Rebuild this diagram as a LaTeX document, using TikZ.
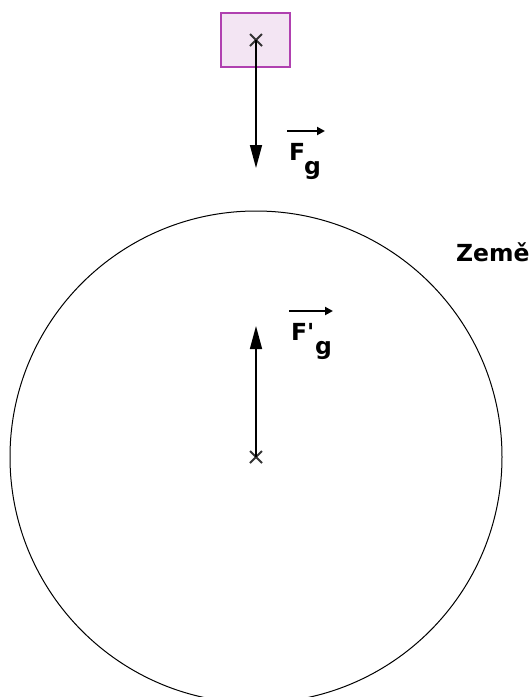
\documentclass[tikz,border=0pt]{standalone}
\usepackage{fontspec}
\setmainfont{DejaVu Sans}
\usetikzlibrary{arrows.meta,calc}
\definecolor{boxfill}{HTML}{F3E5F3}
\definecolor{boxline}{HTML}{B040B0}
\definecolor{crossc}{HTML}{333333}
\tikzset{
  force/.style={line width=1.5pt,-{Triangle[length=23pt,width=12pt]}},
  vec/.style={line width=2.6pt,-{Triangle[length=8pt,width=8pt]}},
  crossmark/.style={crossc,line width=2pt},
  lbl/.style={font=\fontsize{23.5}{27}\selectfont\bfseries,inner sep=0pt,anchor=base west},
}
\begin{document}
\begin{tikzpicture}[x=1pt,y=-1pt]
\useasboundingbox (0,0) rectangle (531,697);
% Earth
\coordinate (ec) at (256,457);
\draw[line width=1pt] (ec) circle[radius=246];
% body
\node[draw=boxline,fill=boxfill,line width=1.2pt,minimum width=69pt,minimum height=54pt,inner sep=0pt] (box) at (255.5,40) {};
\coordinate (mc) at (256,40);
% crosses
\draw[crossmark] ($(mc)+(-6,-6)$) -- ($(mc)+(6,6)$) ($(mc)+(-6,6)$) -- ($(mc)+(6,-6)$);
\draw[crossmark] ($(ec)+(-6,-6)$) -- ($(ec)+(6,6)$) ($(ec)+(-6,6)$) -- ($(ec)+(6,-6)$);
% forces
\coordinate (fgtip) at (256,168);
\coordinate (fgptip) at (256,326);
\draw[force] (mc) -- (fgtip);
\draw[force] (ec) -- (fgptip);
% labels
\node[lbl] (F1) at (289,160) {F};
\node[lbl] (g1) at (304,174) {g};
\coordinate (v1a) at (287,131);
\coordinate (v1b) at (325,131);
\draw[vec] (v1a) -- (v1b);
\node[lbl] (F2) at (291,340) {F};
\node[lbl] (p2) at (307,340) {\textquotesingle};
\node[lbl] (g2) at (315,354) {g};
\coordinate (v2a) at (289,311);
\coordinate (v2b) at (333,311);
\draw[vec] (v2a) -- (v2b);
\node[lbl] (zeme) at (456,261) {Země};
\end{tikzpicture}
\end{document}
